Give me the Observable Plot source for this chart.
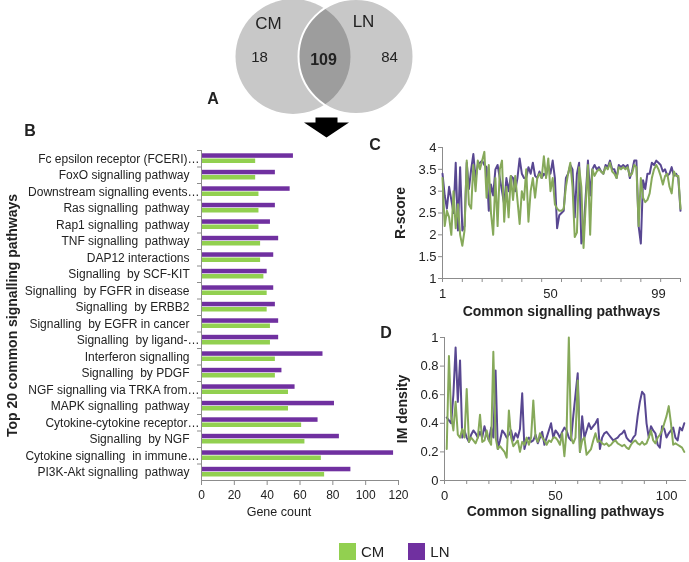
<!DOCTYPE html>
<html><head><meta charset="utf-8">
<script src="https://cdn.jsdelivr.net/npm/d3@7"></script>
<script src="https://cdn.jsdelivr.net/npm/@observablehq/plot@0.6"></script>
<style>
body{margin:0;background:#fff;}
#fig{position:relative;width:689px;height:562px;font-family:"Liberation Sans",Arial,sans-serif;color:#222;overflow:hidden;background:#fff;}
.panel{position:absolute;}
.plbl{position:absolute;font-weight:bold;font-size:16px;transform:translate(-50%,-50%);line-height:1;}
svg text{white-space:pre;}
.lg-swatch{margin-right:24px !important;}
.lg-swatch > svg{margin-right:5px !important;}
</style></head><body><div id="fig"></div>
<script>
// ---------- data ----------
const vennSets = ["CM", "LN"];
const vennOnly = [18, 84];
const vennShared = 109;

const pathways = [
  "Fc epsilon receptor (FCERI)…",
  "FoxO signalling pathway",
  "Downstream signalling events…",
  "Ras signalling  pathway",
  "Rap1 signalling  pathway",
  "TNF signalling  pathway",
  "DAP12 interactions",
  "Signalling  by SCF-KIT",
  "Signalling  by FGFR in disease",
  "Signalling  by ERBB2",
  "Signalling  by EGFR in cancer",
  "Signalling  by ligand-…",
  "Interferon signalling",
  "Signalling  by PDGF",
  "NGF signalling via TRKA from…",
  "MAPK signalling  pathway",
  "Cytokine-cytokine receptor…",
  "Signalling  by NGF",
  "Cytokine signalling  in immune…",
  "PI3K-Akt signalling  pathway"
];
const cmCounts = [33,33,35,35,35,36,36,38,40,40,42,42,45,45,53,53,61,63,73,75];
const lnCounts = [56,45,54,45,42,47,44,40,44,45,47,47,74,49,57,81,71,84,117,91];
const geneTicks = [0,20,40,60,80,100,120];

const rScoreLN = [3.40,2.90,2.60,3.10,2.80,2.50,3.65,2.10,3.55,2.10,2.20,3.65,3.05,3.50,3.85,3.30,3.60,3.65,3.70,3.60,
  3.55,2.55,3.15,2.90,3.50,3.60,3.30,3.00,2.70,3.30,3.00,3.35,3.30,3.00,3.30,3.75,3.40,3.30,3.30,3.55,
  3.40,3.65,3.35,3.30,3.45,3.30,3.40,3.35,3.60,3.40,3.70,3.30,2.15,2.45,2.50,2.55,3.30,3.40,3.60,3.50,
  2.40,3.40,3.65,1.80,2.00,2.90,3.70,2.90,3.50,3.60,3.50,3.55,3.45,3.40,3.60,3.55,3.70,3.50,3.50,3.30,
  3.60,3.55,3.60,3.55,3.60,3.30,3.45,3.70,3.70,2.20,1.80,3.25,3.05,3.40,3.40,3.65,3.60,3.70,3.65,3.60,
  3.45,3.50,3.35,3.40,3.55,3.35,3.40,3.30,2.55];
const rScoreCM = [3.30,2.20,2.55,2.40,2.00,3.00,2.15,2.70,2.00,1.75,2.10,3.70,2.70,2.60,3.60,3.00,3.70,3.50,3.70,3.90,
  2.85,3.60,2.50,2.00,3.30,2.20,3.50,3.70,2.30,3.10,2.40,3.35,2.80,3.35,2.80,2.25,3.00,2.80,3.50,2.30,
  3.00,3.30,2.85,3.30,3.40,3.30,3.80,3.30,3.75,3.00,3.30,2.70,2.60,2.55,2.55,2.60,3.10,3.40,3.65,3.10,
  1.95,2.05,3.55,3.10,1.70,2.70,3.60,2.00,3.50,3.35,3.45,3.50,3.45,3.40,3.55,3.50,3.65,3.45,3.40,3.30,
  3.55,3.50,3.55,3.50,3.55,3.35,3.40,3.60,3.55,2.20,3.30,2.85,2.75,2.80,2.95,3.30,3.50,3.60,3.50,3.35,
  3.15,3.35,3.40,3.10,2.95,3.45,3.35,3.35,2.60];
const rTicks = [1,1.5,2,2.5,3,3.5,4];
const rXTickMarks = [1,10,19,28,37,46,55,64,73,82,91,100,109];
const rXLabels = [1,50,99];

const imLN = [0.44,0.42,0.40,0.60,0.93,0.55,0.84,0.30,0.35,0.30,0.27,0.32,0.35,0.33,0.30,0.34,0.30,0.38,0.32,0.28,
  0.37,0.30,0.77,0.22,0.28,0.35,0.33,0.30,0.32,0.35,0.28,0.33,0.30,0.36,0.61,0.22,0.28,0.30,0.27,0.28,
  0.32,0.26,0.30,0.34,0.25,0.30,0.35,0.40,0.30,0.35,0.33,0.30,0.34,0.37,0.35,0.30,0.28,0.45,0.60,0.75,
  0.20,0.45,0.30,0.35,0.40,0.36,0.38,0.40,0.43,0.22,0.30,0.33,0.34,0.32,0.30,0.28,0.29,0.30,0.32,0.33,
  0.35,0.30,0.28,0.27,0.30,0.32,0.45,0.55,0.62,0.60,0.40,0.30,0.38,0.35,0.33,0.25,0.23,0.38,0.36,0.30,
  0.33,0.35,0.37,0.30,0.28,0.37,0.35,0.40];
const imCM = [0.22,0.87,0.45,0.35,0.55,0.32,0.30,0.36,0.30,0.64,0.27,0.30,0.28,0.26,0.30,0.46,0.27,0.28,0.35,0.28,
  0.25,0.90,0.30,0.22,0.24,0.22,0.20,0.16,0.49,0.30,0.24,0.26,0.28,0.20,0.27,0.25,0.30,0.25,0.30,0.56,
  0.30,0.27,0.33,0.30,0.28,0.25,0.28,0.27,0.30,0.30,0.28,0.25,0.33,0.17,0.35,1.00,0.30,0.26,0.30,0.70,
  0.20,0.28,0.30,0.18,0.20,0.22,0.28,0.33,0.27,0.28,0.26,0.25,0.26,0.24,0.25,0.27,0.28,0.26,0.25,0.24,
  0.25,0.23,0.22,0.25,0.27,0.28,0.26,0.25,0.27,0.25,0.26,0.30,0.35,0.28,0.26,0.30,0.32,0.35,0.40,0.45,
  0.52,0.40,0.25,0.26,0.25,0.24,0.23,0.20];
const imTicks = [0,0.2,0.4,0.6,0.8,1];
const imXTickMarks = [0,10,20,30,40,50,60,70,80,90,100];
const imXLabels = [0,50,100];

// ---------- styles ----------
const FONT = "Liberation Sans, Arial, sans-serif";
const barCM = "#92d050", barLN = "#7030a0";
const lineCM = "#86a95a", lineLN = "#584791";
const axisGray = "#8c8c8c", txt = "#222";
const vennGray = "#c8c8c8";
const baseStyle = {fontFamily: FONT, fontSize: "12px", color: txt, background: "transparent", overflow: "visible"};

const fig = document.getElementById("fig");
function place(node, left, top) {
  const d = document.createElement("div");
  d.className = "panel"; d.style.left = left + "px"; d.style.top = top + "px";
  d.append(node); fig.append(d);
}
function letter(t, x, y) {
  const d = document.createElement("div");
  d.className = "plbl"; d.textContent = t; d.style.left = x + "px"; d.style.top = y + "px";
  fig.append(d);
}

// ---------- A: Venn ----------
const arrowSymbol = {
  draw(ctx) {
    ctx.moveTo(-11, -10); ctx.lineTo(11, -10); ctx.lineTo(11, -5); ctx.lineTo(22.5, -5);
    ctx.lineTo(0, 10); ctx.lineTo(-22.5, -5); ctx.lineTo(-11, -5); ctx.closePath();
  }
};
const venn = Plot.plot({
  width: 280, height: 140, marginLeft: 92.5, marginRight: 124.5, marginTop: 0, marginBottom: 28,
  style: baseStyle,
  x: {domain: [0, 1], axis: null},
  marks: [
    Plot.dot([vennSets[0]], {x: () => 0, frameAnchor: "middle", r: 57.5, fill: vennGray}),
    Plot.dot([vennSets[1]], {x: () => 1, frameAnchor: "middle", r: 57.5, fill: vennGray, mixBlendMode: "multiply"}),
    Plot.dot([vennSets[1]], {x: () => 1, frameAnchor: "middle", r: 57.5, fill: "none", stroke: "white", strokeWidth: 2}),
    Plot.text([vennSets[0]], {x: () => 0, text: d => d, frameAnchor: "middle", dx: -24.5, dy: -33, fontSize: 17, fill: txt}),
    Plot.text([vennSets[1]], {x: () => 1, text: d => d, frameAnchor: "middle", dx: 7.5, dy: -35, fontSize: 17, fill: txt}),
    Plot.text([vennOnly[0]], {x: () => 0, text: d => String(d), frameAnchor: "middle", dx: -33.5, dy: 1, fontSize: 15, fill: txt}),
    Plot.text([vennShared], {x: () => 0.5, text: d => String(d), frameAnchor: "middle", dx: -1, dy: 3, fontSize: 16, fontWeight: "bold", fill: txt}),
    Plot.text([vennOnly[1]], {x: () => 1, text: d => String(d), frameAnchor: "middle", dx: 33.5, dy: 1, fontSize: 15, fill: txt}),
    Plot.dot([vennShared], {x: () => 0.5, frameAnchor: "middle", dx: 2, dy: 71, r: 10, symbol: arrowSymbol, fill: "black"})
  ]
});
place(venn, 200, 0);

// ---------- B: bars ----------
const lnRows = pathways.map((p, i) => ({pathway: p, count: lnCounts[i]}));
const cmRows = pathways.map((p, i) => ({pathway: p, count: cmCounts[i]}));
const bars = Plot.plot({
  width: 410, height: 400, marginLeft: 201, marginRight: 12, marginTop: 20, marginBottom: 50,
  style: baseStyle,
  x: {domain: [0, 120]},
  y: {domain: pathways, padding: 0, round: false},
  marks: [
    Plot.barX(lnRows, {x: "count", y: "pathway", fill: barLN, insetTop: 3.3, insetBottom: 8.7}),
    Plot.barX(cmRows, {x: "count", y: "pathway", fill: barCM, insetTop: 8.5, insetBottom: 3.5}),
    Plot.ruleX([0], {stroke: axisGray}),
    Plot.frame({anchor: "bottom", stroke: axisGray}),
    Plot.axisX({ticks: geneTicks, tickSize: 5, tickPadding: 5, stroke: axisGray, fill: txt, fontSize: 12, label: null}),
    Plot.axisY({tickSize: 0, tickPadding: 2, fill: txt, fontSize: 12, label: null,
      tickFormat: d => d.endsWith("…") ? d : d + "   "}),
    Plot.axisY({tickSize: 4, tickFormat: () => "", dy: -8.25, stroke: axisGray, label: null}),
    Plot.text(["Gene count"], {frameAnchor: "bottom", dx: -21, dy: 35, fontSize: 12.5, fill: txt}),
    Plot.text(["Top 20 common signalling pathways"], {frameAnchor: "left", textAnchor: "middle", rotate: -90, dx: -189, fontSize: 14, fontWeight: "bold", fill: txt})
  ]
});
place(bars, 0, 130);

// ---------- C: R-score ----------
const rLN = rScoreLN.map((v, i) => ({i: i + 1, v}));
const rCM = rScoreCM.map((v, i) => ({i: i + 1, v}));
const cPlot = Plot.plot({
  width: 329, height: 200, marginLeft: 82, marginRight: 9, marginTop: 17, marginBottom: 52,
  style: {...baseStyle, fontSize: "13px"},
  x: {domain: [1, 109]},
  y: {domain: [1, 4]},
  marks: [
    Plot.ruleX([1], {stroke: axisGray}),
    Plot.ruleY([1], {stroke: axisGray}),
    Plot.axisY({ticks: rTicks, tickSize: 4, tickPadding: 2, stroke: axisGray, fill: txt, fontSize: 13, tickFormat: d => String(d), label: null}),
    Plot.axisX({ticks: rXTickMarks, tickSize: 4, tickFormat: () => "", stroke: axisGray, label: null}),
    Plot.axisX({ticks: rXLabels, tickSize: 0, tickPadding: 10, fill: txt, fontSize: 13, tickFormat: d => String(d), label: null}),
    Plot.line(rLN, {x: "i", y: "v", stroke: lineLN, strokeWidth: 2}),
    Plot.line(rCM, {x: "i", y: "v", stroke: lineCM, strokeWidth: 2}),
    Plot.text(["R-score"], {frameAnchor: "left", textAnchor: "middle", rotate: -90, dx: -42, fontSize: 14, fontWeight: "bold", fill: txt}),
    Plot.text(["Common signalling pathways"], {frameAnchor: "bottom", dy: 37, fontSize: 14, fontWeight: "bold", fill: txt})
  ]
});
place(cPlot, 360, 130);

// ---------- D: IM density ----------
const dLN = imLN.map((v, i) => ({i: i + 1, v}));
const dCM = imCM.map((v, i) => ({i: i + 1, v}));
const dPlot = Plot.plot({
  width: 329, height: 207, marginLeft: 84, marginRight: 3, marginTop: 12, marginBottom: 52,
  style: {...baseStyle, fontSize: "13px"},
  x: {domain: [0, 109]},
  y: {domain: [0, 1]},
  marks: [
    Plot.ruleX([0], {stroke: axisGray}),
    Plot.ruleY([0], {stroke: axisGray}),
    Plot.axisY({ticks: imTicks, tickSize: 4, tickPadding: 2, stroke: axisGray, fill: txt, fontSize: 13, tickFormat: d => String(d), label: null}),
    Plot.axisX({ticks: imXTickMarks, tickSize: 4, tickFormat: () => "", stroke: axisGray, label: null}),
    Plot.axisX({ticks: imXLabels, tickSize: 0, tickPadding: 10, fill: txt, fontSize: 13, tickFormat: d => String(d), label: null}),
    Plot.line(dLN, {x: "i", y: "v", stroke: lineLN, strokeWidth: 2}),
    Plot.line(dCM, {x: "i", y: "v", stroke: lineCM, strokeWidth: 2}),
    Plot.text(["IM density"], {frameAnchor: "left", textAnchor: "middle", rotate: -90, dx: -42, fontSize: 14, fontWeight: "bold", fill: txt}),
    Plot.text(["Common signalling pathways"], {frameAnchor: "bottom", dy: 35, fontSize: 14, fontWeight: "bold", fill: txt})
  ]
});
place(dPlot, 360, 325);

// ---------- legend ----------
const legend = Plot.legend({
  color: {type: "ordinal", domain: vennSets, range: [barCM, barLN]},
  swatchSize: 17, className: "lg",
  style: {fontFamily: FONT, fontSize: "15px", color: txt}
});
place(legend, 339, 535);

// ---------- panel letters ----------
letter("A", 213, 99);
letter("B", 30, 131);
letter("C", 375, 145);
letter("D", 386, 333);
</script>
</body></html>
